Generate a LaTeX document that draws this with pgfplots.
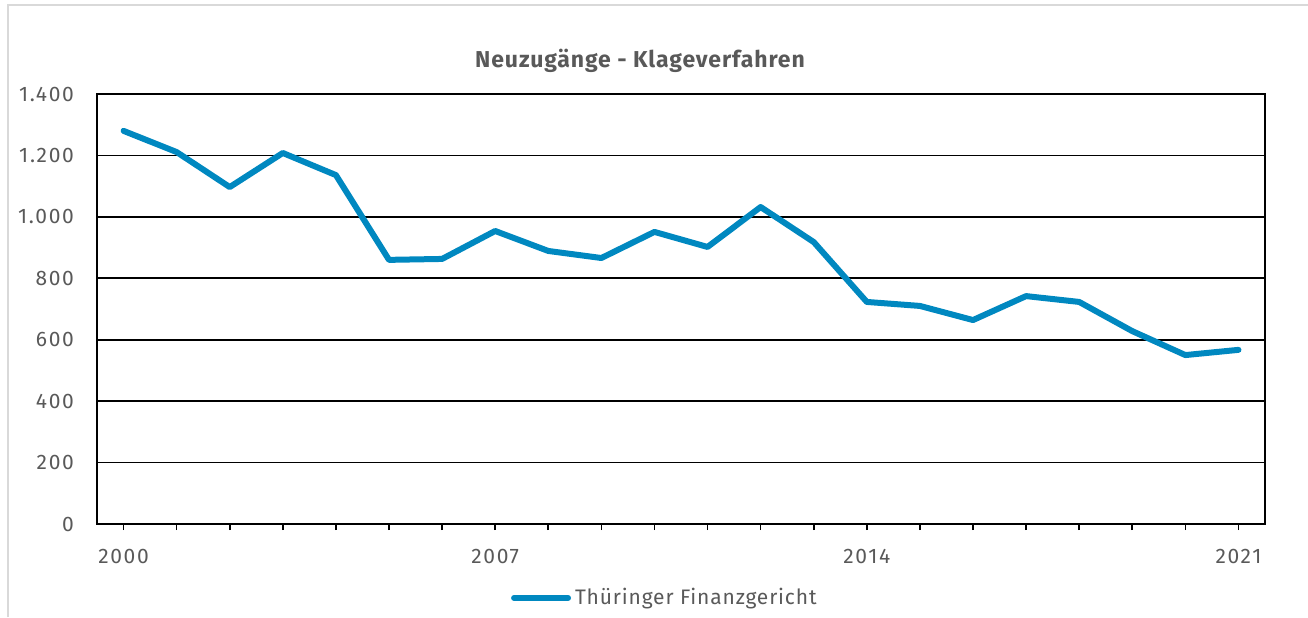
\documentclass[border=0pt]{standalone}
\usepackage{fontspec}
\setmainfont{Fira Sans}
\newfontfamily\tickfont{Fira Sans}[LetterSpace=8]
\newfontfamily\legfont{Fira Sans}[LetterSpace=4]
\newfontfamily\titlefont{Fira Sans}[LetterSpace=4]
\usepackage{pgfplots}
\pgfplotsset{compat=1.18}
\definecolor{linec}{HTML}{0088C0}
\definecolor{txt}{HTML}{595959}
\definecolor{frame}{HTML}{D9D9D9}
\begin{document}
\begin{tikzpicture}[x=0.5pt,y=0.5pt]
\useasboundingbox (0,0) rectangle (1308,617);
\draw[frame, line width=1pt] (8,0) -- (8,612) -- (1308,612);
\node[txt, font=\titlefont\fontsize{11.5}{13}\selectfont\bfseries] at (640,556) {Neuzugänge - Klageverfahren};
\coordinate (ll) at (97,93);
\begin{axis}[
  at={(ll)}, anchor=south west,
  scale only axis, width=584pt, height=215pt,
  xmin=-0.5, xmax=21.5, ymin=0, ymax=1400,
  xtick={0,...,21},
  xticklabels={2000,,,,,,,2007,,,,,,,2014,,,,,,,2021},
  ytick={0,200,...,1400},
  xtick pos=bottom, ytick pos=left,
  tick align=outside,
  major tick length=3pt,
  xtick style={black, line width=0.8pt},
  ytick style={draw=none},
  ymajorgrids,
  major grid style={black, line width=0.8pt},
  axis line style={black, line width=0.9pt},
  tick label style={txt, font=\tickfont\fontsize{10.5}{12}\selectfont},
  yticklabel style={xshift=-5pt},
  xticklabel style={yshift=-6pt},
  /pgf/number format/assume math mode=true,
  /pgf/number format/1000 sep={.},
  scaled y ticks=false,
  legend style={at={(0.487,-0.172)}, anchor=center, draw=none, fill=none,
    font=\legfont\fontsize{10.5}{12}\selectfont, text=txt, inner sep=0pt},
  legend image code/.code={\draw[#1] (0pt,0pt) -- (27pt,0pt);},
  legend cell align=left,
]
\addplot[linec, line width=3pt, line join=round, line cap=round] coordinates {
(0,1280) (1,1211) (2,1097) (3,1208) (4,1136) (5,860) (6,863) (7,954)
(8,889) (9,866) (10,951) (11,902) (12,1032) (13,918) (14,723) (15,710)
(16,664) (17,742) (18,723) (19,628) (20,550) (21,567)
};
\addlegendentry{Thüringer Finanzgericht}
\end{axis}
\end{tikzpicture}
\end{document}
